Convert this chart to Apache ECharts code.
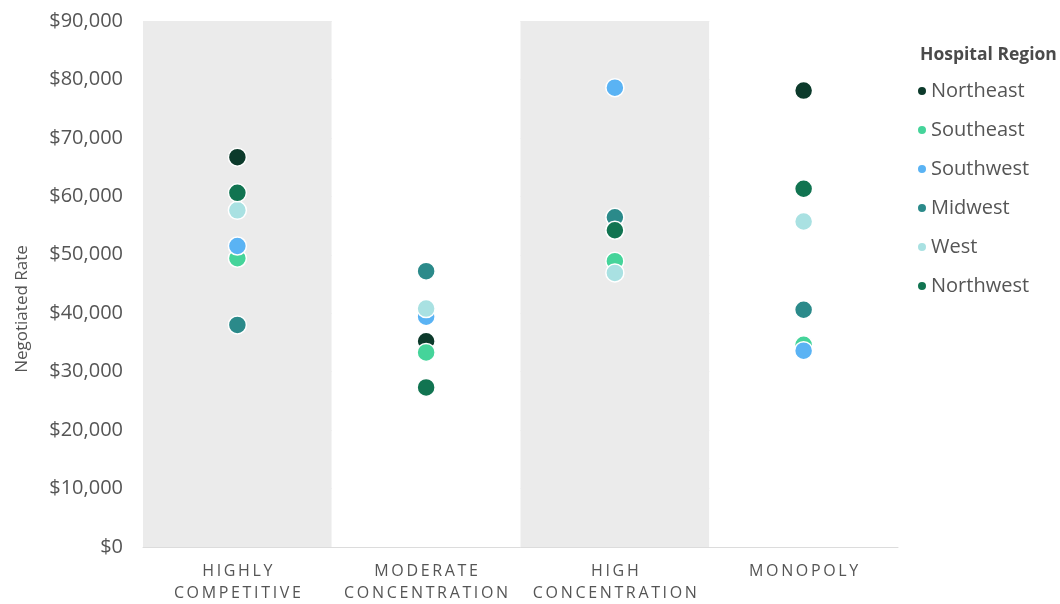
<!DOCTYPE html>
<html>
<head>
<meta charset="utf-8">
<title>Negotiated Rate by Market Concentration</title>
<script src="https://cdn.jsdelivr.net/npm/echarts@6/dist/echarts.min.js"></script>
<style>
    html, body { margin: 0; padding: 0; background: #fff; }
    #chart { width: 1060px; height: 604px; }
</style>
</head>
<body>
<div id="chart"></div>
<script>
// market types on x axis
var categories = ['Highly\nCompetitive', 'Moderate\nConcentration', 'High\nConcentration', 'Monopoly'];

// negotiated rate per region, one value per category
var northeast = [66700, 35200, 54200, 78100];
var southeast = [49400, 33300, 48900, 34600];
var southwest = [51500, 39400, 78600, 33600];
var midwest   = [38000, 47200, 56400, 40600];
var west      = [57600, 40800, 46900, 55700];
var northwest = [60600, 27300, 54200, 61300];

var regions = ['Northeast', 'Southeast', 'Southwest', 'Midwest', 'West', 'Northwest'];
var regionData = [northeast, southeast, southwest, midwest, west, northwest];
var regionColors = ['#0c3a2b', '#45d49a', '#5ab3f4', '#2b8a8a', '#a9e1e2', '#117451'];

// spread the letters of the axis labels a bit
function spaced(s) {
    return s.split('\n').map(function (line) {
        return line.toUpperCase().split('').join('\u2009');
    }).join('\n');
}

var series = regions.map(function (name, i) {
    return {
        name: name,
        type: 'scatter',
        symbolSize: 18,
        itemStyle: {
            color: regionColors[i],
            opacity: 1,
            borderColor: '#ffffff',
            borderWidth: 1.5
        },
        data: regionData[i]
    };
});

var chart = echarts.init(document.getElementById('chart'));
chart.setOption({
    animation: false,
    textStyle: { fontFamily: '"Open Sans", "Noto Sans", sans-serif' },
    title: {
        text: 'Hospital Region',
        left: 915,
        top: 41,
        textStyle: { fontSize: 17.5, fontWeight: 'bold', color: '#4a4a4a' }
    },
    legend: {
        orient: 'vertical',
        left: 911,
        top: 76,
        icon: 'circle',
        itemWidth: 10,
        itemHeight: 10,
        itemGap: 19,
        textStyle: { fontSize: 20, color: '#555', padding: [0, 0, 0, -1] },
        data: regions
    },
    grid: {
        left: 143,
        right: 162,
        top: 21,
        bottom: 53
    },
    xAxis: {
        type: 'category',
        data: categories,
        axisLine: { lineStyle: { color: '#dcdcdc' } },
        axisTick: { show: false },
        axisLabel: {
            interval: 0,
            margin: 13,
            fontSize: 16,
            lineHeight: 22,
            color: '#555',
            formatter: spaced
        },
        splitArea: {
            show: true,
            interval: 0,
            areaStyle: { color: ['#ebebeb', '#ffffff'] }
        }
    },
    yAxis: {
        type: 'value',
        min: 0,
        max: 90000,
        interval: 10000,
        name: 'Negotiated Rate',
        nameLocation: 'middle',
        nameGap: 112,
        nameTextStyle: { fontSize: 17, color: '#555', padding: [0, 50, 0, 0] },
        axisLine: { show: false },
        axisTick: { show: false },
        axisLabel: {
            margin: 20,
            fontSize: 20,
            color: '#555',
            formatter: function (v) { return '$' + v.toLocaleString('en-US'); }
        },
        splitLine: { lineStyle: { color: '#e2e2e2' } }
    },
    series: series
});
</script>
</body>
</html>
